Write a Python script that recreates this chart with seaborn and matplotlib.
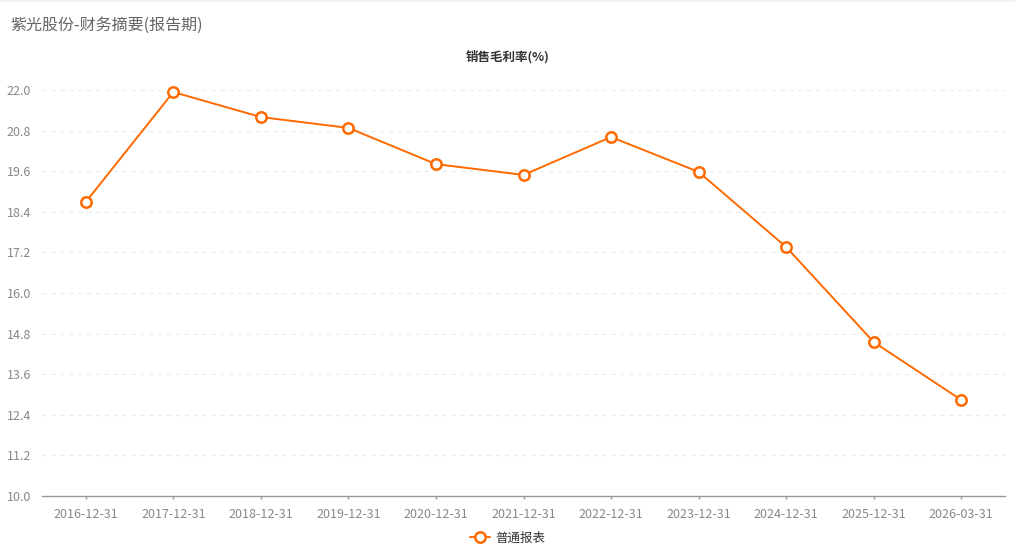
import numpy as np
import pandas as pd
import matplotlib
matplotlib.use('Agg')
import matplotlib.pyplot as plt
import seaborn as sns

# data
periods = ['2016-12-31', '2017-12-31', '2018-12-31', '2019-12-31', '2020-12-31',
           '2021-12-31', '2022-12-31', '2023-12-31', '2024-12-31', '2025-12-31',
           '2026-03-31']
gross_margin = [18.69, 21.94, 21.20, 20.88, 19.81, 19.49, 20.61, 19.58, 17.36, 14.55, 12.84]
y_ticks = [10.0, 11.2, 12.4, 13.6, 14.8, 16.0, 17.2, 18.4, 19.6, 20.8, 22.0]
series_name = '普通报表'

sns.set_theme(style='white')
plt.rcParams['font.family'] = ['Noto Sans CJK SC', 'DejaVu Sans']

df = pd.DataFrame({'idx': np.arange(len(periods)), 'value': gross_margin})

fig = plt.figure(figsize=(10.15, 5.54), dpi=100)
ax = fig.add_axes([42 / 1015, 58 / 554, 963 / 1015, 406 / 554])

orange = '#FF6A00'
sns.lineplot(data=df, x='idx', y='value', ax=ax, color=orange, linewidth=1.4,
             marker='o', markersize=7.5, markerfacecolor='white',
             markeredgecolor=orange, markeredgewidth=1.8, label=series_name,
             zorder=3, clip_on=False)

ax.set_xlim(-0.5, len(periods) - 0.5)
ax.set_ylim(10.0, 22.0)
ax.set_yticks(y_ticks)
ax.set_yticklabels([f'{v:.1f}' for v in y_ticks])
ax.set_xticks(np.arange(len(periods)))
ax.set_xticklabels(periods)

for v in y_ticks[1:]:
    ax.axhline(v, color='#ececec', linewidth=0.8, linestyle=(0, (4, 4)), zorder=0)

for s in ['top', 'right', 'left']:
    ax.spines[s].set_visible(False)
ax.spines['bottom'].set_color('#999999')
ax.spines['bottom'].set_linewidth(1.0)

ax.tick_params(axis='x', which='major', bottom=True, length=2.5, width=1,
               color='#999999', direction='out', labelsize=9,
               labelcolor='#888888', pad=6)
ax.tick_params(axis='y', length=0, labelsize=9, colors='#888888', pad=8)
ax.set_xlabel('')
ax.set_ylabel('')

fig.text(10 / 1015, 1 - 25 / 554, '紫光股份-财务摘要(报告期)', fontsize=11.5,
         color='#666666', ha='left', va='center')
fig.text(508 / 1015, 1 - 57 / 554, '销售毛利率(%)', fontsize=9, fontweight='bold',
         color='#333333', ha='center', va='center')
fig.add_artist(plt.Line2D([0, 1], [1 - 1 / 554, 1 - 1 / 554], color='#f2f2f2', linewidth=1.5))

leg = ax.legend(loc='center', bbox_to_anchor=(0.5, 1 - 538 / 554), bbox_transform=fig.transFigure,
                frameon=False, fontsize=9, handlelength=1.6, handletextpad=0.4)
for t in leg.get_texts():
    t.set_color('#333333')

fig.savefig('out.png', dpi=100, facecolor='white')
